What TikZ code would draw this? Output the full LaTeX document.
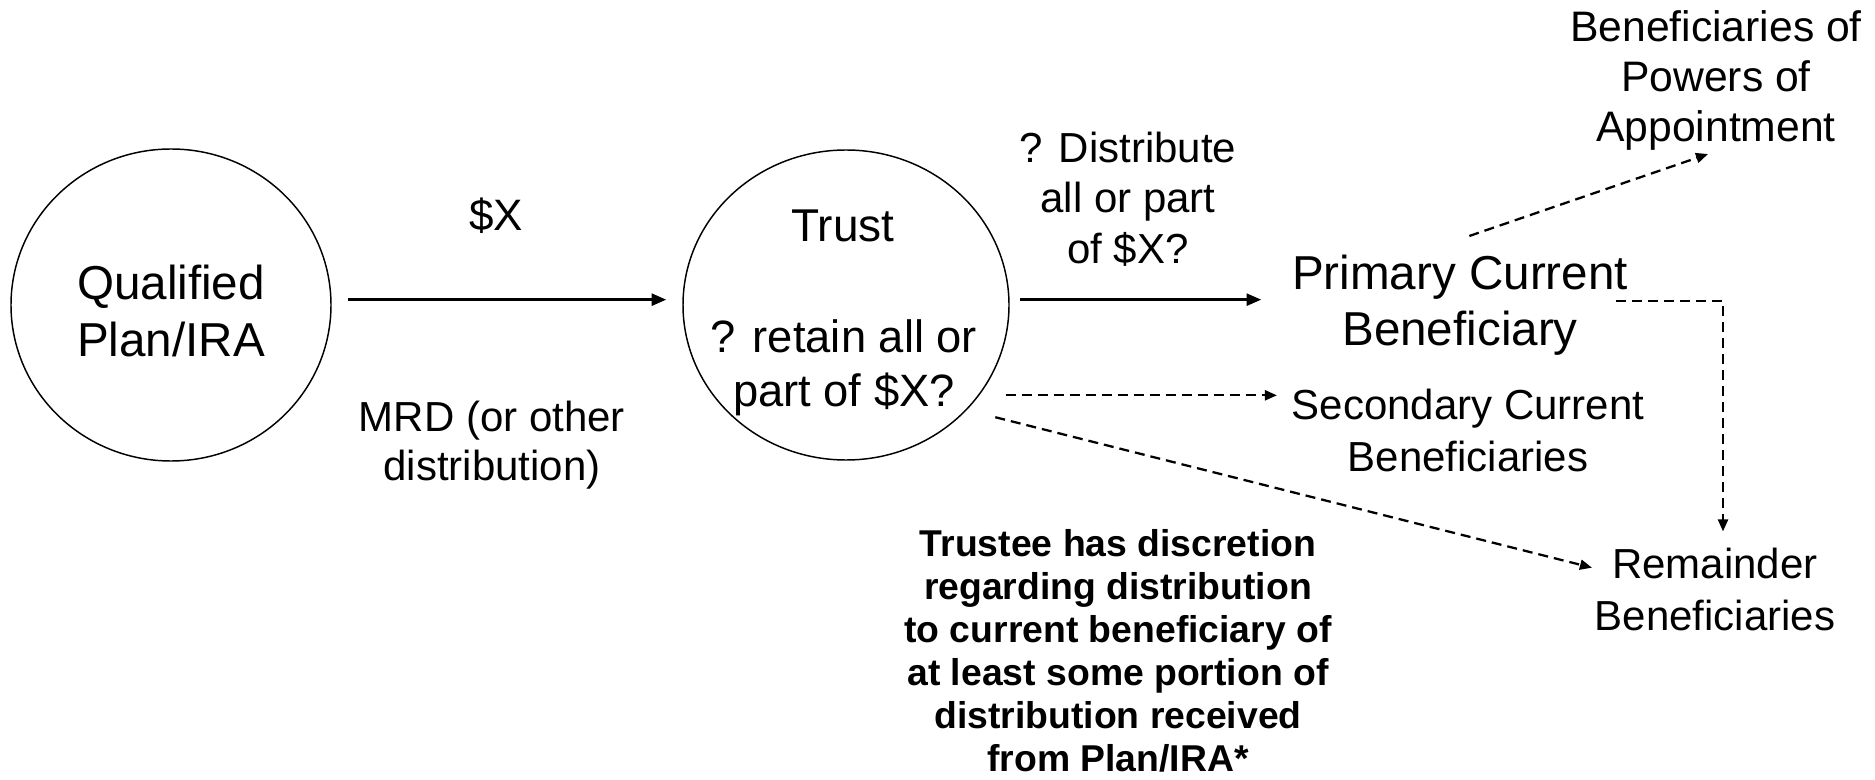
\documentclass[tikz,border=0pt]{standalone}
\usepackage{fontspec}
\setmainfont{Liberation Sans}
\usetikzlibrary{shapes}
\usetikzlibrary{arrows.meta}
\tikzset{every picture/.style={line width=0.75pt}}

\begin{document}
\begin{tikzpicture}[x=0.75pt,y=0.75pt,yscale=-1,xscale=1,
  party/.style={draw, ellipse, line width=1.1pt, inner sep=0pt},
  txt/.style={align=center, inner sep=0.75pt},
  flow/.style={line width=1.9pt, -{Triangle[length=11pt,width=9pt]}},
  dflow/.style={line width=1.7pt, dash pattern=on 7.5pt off 4.5pt, -{Triangle[length=9pt,width=7.5pt]}}]
\useasboundingbox (0,0) rectangle (1875,780);

%Shape: Ellipse [plan]
\node [party, minimum width=240pt, minimum height=234pt] (plan) at (171,305) {};
%Shape: Ellipse [trust]
\node [party, minimum width=244.5pt, minimum height=232.5pt] (trust) at (846,305) {};

% Text Node
\node [txt, font=\fontsize{35.7}{42.75}\selectfont] (plantxt) at (171,311) {Qualified\\Plan/IRA};
% Text Node
\node [txt, font=\fontsize{33}{40}\selectfont] (amount) at (496,216) {\$X};
% Text Node
\node [txt, font=\fontsize{31.5}{37}\selectfont] (mrd) at (492,445) {MRD (or other\\distribution)};
% Text Node
\node [txt, font=\fontsize{34.5}{40}\selectfont] (trusttxt) at (843,226) {Trust};
% Text Node
\node [txt, font=\fontsize{34}{40.5}\selectfont] (retain) at (844,368) {? retain all or\\part of \$X?};
% Text Node
\node [txt, font=\fontsize{31.5}{38}\selectfont] (distrib) at (1128,199) {? Distribute\\all or part\\of \$X?};
% Text Node
\node [txt, font=\fontsize{35.7}{42}\selectfont] (primary) at (1460,305) {Primary Current\\Beneficiary};
% Text Node
\node [txt, font=\fontsize{31.5}{39}\selectfont] (secondary) at (1468,430) {Secondary Current\\Beneficiaries};
% Text Node
\node [txt, font=\fontsize{31.5}{39}\selectfont] (remainder) at (1715,589) {Remainder\\Beneficiaries};
% Text Node
\node [txt, font=\fontsize{32}{37.5}\selectfont] (powers) at (1716,80) {Beneficiaries of\\Powers of\\Appointment};
% Text Node
\node [txt, font=\bfseries\fontsize{28}{32.2}\selectfont] (note) at (1118,651) {Trustee has discretion\\regarding distribution\\to current beneficiary of\\at least some portion of\\distribution received\\from Plan/IRA*};

%Straight Lines [solid]
\draw [flow, shorten <=12pt, shorten >=12pt] ([yshift=-4pt]plan.east) -- ([yshift=-4pt]trust.west);
\draw [flow, shorten <=8pt, shorten >=22pt] ([yshift=-4pt]trust.east) -- ([yshift=-4pt]primary.west);

%Straight Lines [dashed]
\coordinate (secin) at ([xshift=-10pt,yshift=-26pt]secondary.west);
\draw [dflow] ([xshift=-3pt]trust.east |- secin) -- (secin);
\coordinate (remin) at ([xshift=-1pt,yshift=-16pt]remainder.west);
\draw [dflow, shorten <=22pt] (trust.-41) -- (remin);
\draw [dflow] ([xshift=-10pt,yshift=-3pt]primary.east) -| ([xshift=6pt,yshift=-11pt]remainder.north);
\draw [dflow] ([xshift=7pt,yshift=-13pt]primary.north) -- ([xshift=-6pt,yshift=2pt]powers.south);

\end{tikzpicture}
\end{document}
